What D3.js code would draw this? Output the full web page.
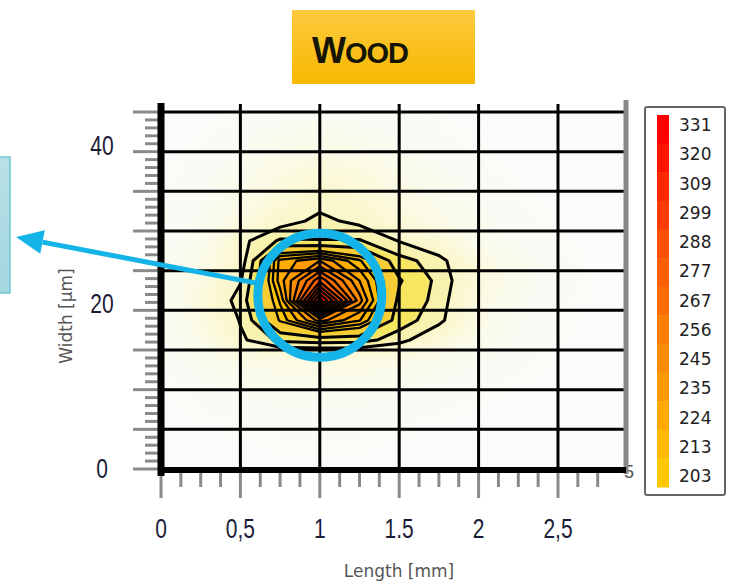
<!DOCTYPE html>
<html>
<head>
<meta charset="utf-8">
<script src="https://cdn.jsdelivr.net/npm/d3@7"></script>
<style>
  body { margin: 0; background: #fff; }
  svg { display: block; font-family: "Liberation Sans", Arial, sans-serif; }
</style>
</head>
<body>
<svg id="chart" width="741" height="581"></svg>
<script>
// Sample grid: Length [mm] columns, Width [µm] rows (top row = largest width)
const lengthNodes = [0, 0.25, 0.5, 0.75, 1.0, 1.25, 1.5, 1.75, 2.0, 2.25, 2.5, 2.75];
const widthNodes = [43.75, 41.25, 38.75, 36.25, 33.75, 31.25, 28.75, 26.25, 23.75, 21.25, 18.75, 16.25, 13.75, 11.25, 8.75, 6.25, 3.75];
const intensity = [
  [30, 35, 45, 55, 60, 55, 45, 40, 35, 30, 28, 25],
  [32, 40, 55, 70, 78, 70, 55, 45, 38, 32, 28, 25],
  [35, 45, 65, 88, 100, 92, 72, 55, 42, 35, 30, 26],
  [38, 50, 75, 102, 118, 110, 88, 66, 48, 38, 32, 27],
  [40, 55, 85, 112, 132, 122, 98, 76, 56, 42, 34, 28],
  [42, 60, 95, 130, 146, 134, 108, 86, 62, 46, 36, 30],
  [45, 70, 133, 163, 161, 162, 139, 112, 75, 52, 40, 32],
  [50, 80, 128, 228, 245, 215, 168, 150, 100, 65, 45, 35],
  [55, 95, 138, 230, 285, 235, 182, 155, 110, 70, 48, 36],
  [58, 108, 150, 215, 336, 250, 175, 154, 95, 62, 45, 35],
  [52, 95, 142, 205, 250, 225, 170, 148, 92, 58, 42, 33],
  [48, 85, 135, 165, 170, 168, 150, 112, 80, 52, 40, 32],
  [42, 68, 85, 95, 95, 95, 88, 72, 58, 45, 36, 30],
  [38, 55, 68, 75, 78, 75, 68, 58, 48, 40, 33, 28],
  [34, 45, 55, 60, 62, 60, 55, 48, 40, 35, 30, 26],
  [30, 38, 45, 48, 50, 48, 45, 40, 35, 30, 27, 25],
  [28, 32, 36, 40, 40, 40, 36, 33, 30, 27, 25, 24]
];

// Contour levels
const legendLevels = [331, 320, 309, 299, 288, 277, 267, 256, 245, 235, 224, 213, 203];
const outerLevels = [140, 160, 180];
const glowLevels = [40, 60, 80, 100, 120];

// Axis ticks
const xTicks = [0, 0.5, 1, 1.5, 2, 2.5];
const xTickLabels = ["0", "0,5", "1", "1.5", "2", "2,5"];
const yTicks = [0, 20, 40];
const yTickLabels = ["0", "20", "40"];

// Highlighted region around the peak
const highlight = { length: 1.0, width: 21.9 };

const svg = d3.select("#chart");
const x = d3.scaleLinear().domain([0, 2.922]).range([161, 625]);
const y = d3.scaleLinear().domain([0, 45]).range([469, 112]);

const defs = svg.append("defs");
defs.append("clipPath").attr("id", "plotClip")
  .append("rect").attr("x", x(0)).attr("y", y(45)).attr("width", x(2.922) - x(0)).attr("height", y(0) - y(45));
defs.append("filter").attr("id", "glow").attr("x", "-30%").attr("y", "-30%").attr("width", "160%").attr("height", "160%")
  .append("feGaussianBlur").attr("stdDeviation", 7);
defs.append("filter").attr("id", "soft").attr("x", "-20%").attr("y", "-20%").attr("width", "140%").attr("height", "140%")
  .append("feGaussianBlur").attr("stdDeviation", 2);
const tg = defs.append("linearGradient").attr("id", "titleFill").attr("x1", 0).attr("y1", 0).attr("x2", 0).attr("y2", 1);
tg.append("stop").attr("offset", "0%").attr("stop-color", "#fdca40");
tg.append("stop").attr("offset", "100%").attr("stop-color", "#f8b800");
const bg = defs.append("linearGradient").attr("id", "boxFill").attr("x1", 0).attr("y1", 0).attr("x2", 0).attr("y2", 1);
bg.append("stop").attr("offset", "0%").attr("stop-color", "#b9e0e7");
bg.append("stop").attr("offset", "100%").attr("stop-color", "#a3d6df");

// Plot background
svg.append("rect").attr("x", x(0)).attr("y", y(45)).attr("width", x(2.922) - x(0)).attr("height", y(0) - y(45))
  .attr("fill", "#fbfbf9");

// Contours
const n = lengthNodes.length, m = widthNodes.length;
const stepX = lengthNodes[1] - lengthNodes[0];
const stepY = widthNodes[0] - widthNodes[1];
const allLevels = [...glowLevels, ...outerLevels, ...legendLevels.slice().reverse()];
const contours = d3.contours().size([n, m]).thresholds(allLevels)(intensity.flat());
const proj = d3.geoTransform({
  point(cx, cy) {
    this.stream.point(x(lengthNodes[0] + (cx - 0.5) * stepX), y(widthNodes[0] - (cy - 0.5) * stepY));
  }
});
const path = d3.geoPath(proj);

const legendColor = d3.scaleLinear().domain([203, 245, 288, 331])
  .range(["#ffc800", "#ff8c00", "#ff5000", "#ff0000"]);
const lowColor = d3.scaleLinear().domain([40, 80, 120, 140, 160, 180])
  .range(["#fbfbf5", "#fbfae6", "#faf7cc", "#f8f2b0", "#f6e660", "#f7cc34"]);
const bandColor = v => v >= 203 ? legendColor(v) : lowColor(v);

const plot = svg.append("g").attr("clip-path", "url(#plotClip)");
plot.append("g").attr("filter", "url(#glow)")
  .selectAll("path").data(contours.filter(c => c.value < 140)).join("path")
  .attr("d", path).attr("fill", d => bandColor(d.value));
plot.append("g").attr("filter", "url(#soft)")
  .selectAll("path").data(contours.filter(c => c.value >= 140)).join("path")
  .attr("d", path).attr("fill", d => bandColor(d.value));
plot.append("g")
  .selectAll("path").data(contours.filter(c => c.value >= 140)).join("path")
  .attr("d", path).attr("fill", "none").attr("stroke", "#000")
  .attr("stroke-width", d => d.value >= 203 ? 2.3 : 3).attr("stroke-linejoin", "round");

// Grid
const grid = svg.append("g").attr("stroke", "#000").attr("stroke-width", 3);
grid.selectAll("line.h").data(d3.range(5, 46, 5)).join("line")
  .attr("x1", x(0)).attr("x2", x(2.922)).attr("y1", d => y(d)).attr("y2", d => y(d));
grid.selectAll("line.v").data([0.5, 1, 1.5, 2, 2.5]).join("line")
  .attr("x1", d => x(d)).attr("x2", d => x(d)).attr("y1", y(45) - 8).attr("y2", y(0));

// Ticks
const ticks = svg.append("g").attr("stroke", "#8a8a8a").attr("stroke-width", 3);
ticks.selectAll("line.ym").data(d3.range(0, 46, 1)).join("line")
  .attr("x1", d => d % 5 === 0 ? x(0) - 28 : x(0) - 16).attr("x2", x(0))
  .attr("y1", d => y(d)).attr("y2", d => y(d));
ticks.selectAll("line.xm").data(d3.range(0, 23).map(i => i * 0.125)).join("line")
  .attr("x1", d => x(d)).attr("x2", d => x(d))
  .attr("y1", y(0)).attr("y2", (d, i) => i % 4 === 0 ? y(0) + 29 : y(0) + 18);

// Stray label fragment at the lower right of the frame
svg.append("text").attr("x", 624).attr("y", 478).attr("font-size", 18).attr("fill", "#555").text("5");

// Frame
svg.append("line").attr("x1", 626).attr("x2", 626).attr("y1", 100).attr("y2", 474)
  .attr("stroke", "#888").attr("stroke-width", 5);
svg.append("line").attr("x1", x(0)).attr("x2", x(0)).attr("y1", 103).attr("y2", 476)
  .attr("stroke", "#000").attr("stroke-width", 7);
svg.append("line").attr("x1", x(0) - 3).attr("x2", 626).attr("y1", y(0) + 1).attr("y2", y(0) + 1)
  .attr("stroke", "#000").attr("stroke-width", 6);

// Tick labels
svg.append("g").selectAll("text").data(xTicks).join("text")
  .attr("transform", d => `translate(${x(d)},${538}) scale(1,1.3)`)
  .attr("text-anchor", "middle").attr("font-size", 21).attr("fill", "#1c1c38")
  .text((d, i) => xTickLabels[i]);
svg.append("g").selectAll("text").data(yTicks).join("text")
  .attr("transform", d => `translate(102,${y(d) + (d === 0 ? 9 : 3)}) scale(1,1.3)`)
  .attr("text-anchor", "middle").attr("font-size", 21).attr("fill", "#1c1c38")
  .text((d, i) => yTickLabels[i]);

// Axis titles
svg.append("text").attr("x", 399).attr("y", 577).attr("text-anchor", "middle")
  .attr("font-family", "DejaVu Sans").attr("font-size", 17).attr("fill", "#555").text("Length [mm]");
svg.append("text").attr("transform", "translate(72,316) rotate(-90)").attr("text-anchor", "middle")
  .attr("font-family", "DejaVu Sans").attr("font-size", 17).attr("fill", "#555").text("Width [µm]");

// Highlight circle and arrow
const cx0 = x(highlight.length), cy0 = y(highlight.width), r0 = 62;
const tip = [16, 237];
const ang = Math.atan2(tip[1] - cy0, tip[0] - cx0);
const start = [cx0 + (r0 - 4) * Math.cos(ang), cy0 + (r0 - 4) * Math.sin(ang)];
const headLen = 27, headHalf = 12;
const base = [tip[0] - headLen * Math.cos(ang), tip[1] - headLen * Math.sin(ang)];
svg.append("line").attr("x1", start[0]).attr("y1", start[1]).attr("x2", base[0]).attr("y2", base[1])
  .attr("stroke", "#14b4e8").attr("stroke-width", 5);
svg.append("polygon").attr("fill", "#14b4e8").attr("points", [
  tip,
  [base[0] + headHalf * Math.sin(ang), base[1] - headHalf * Math.cos(ang)],
  [base[0] - headHalf * Math.sin(ang), base[1] + headHalf * Math.cos(ang)]
].map(p => p.join(",")).join(" "));
svg.append("circle").attr("cx", cx0).attr("cy", cy0).attr("r", r0)
  .attr("fill", "none").attr("stroke", "#14b4e8").attr("stroke-width", 9);

// Side box
svg.append("rect").attr("x", -2).attr("y", 157).attr("width", 12).attr("height", 136)
  .attr("fill", "url(#boxFill)").attr("stroke", "#72c6d4").attr("stroke-width", 1.5);

// Title
svg.append("rect").attr("x", 292).attr("y", 10).attr("width", 183).attr("height", 74).attr("fill", "url(#titleFill)");
const title = svg.append("text").attr("x", 312).attr("y", 63).attr("font-weight", "bold")
  .attr("fill", "#151505").attr("letter-spacing", -1);
title.append("tspan").attr("font-size", 36).text("W");
title.append("tspan").attr("font-size", 29).text("OOD");

// Legend
svg.append("rect").attr("x", 645).attr("y", 107).attr("width", 80).attr("height", 388).attr("rx", 2)
  .attr("fill", "#fff").attr("stroke", "#666").attr("stroke-width", 2);
const band = d3.scaleBand().domain(legendLevels).range([115, 487]);
svg.append("g").selectAll("rect").data(legendLevels).join("rect")
  .attr("x", 657).attr("width", 12).attr("y", d => band(d)).attr("height", band.bandwidth() + 0.5)
  .attr("fill", d => legendColor(d));
const labelPos = d3.scalePoint().domain(legendLevels).range([125, 476]);
svg.append("g").selectAll("text").data(legendLevels).join("text")
  .attr("x", 679).attr("y", d => labelPos(d)).attr("dy", "0.36em")
  .attr("font-family", "DejaVu Sans").attr("font-size", 17).attr("fill", "#222")
  .text(d => d);
</script>
</body>
</html>
